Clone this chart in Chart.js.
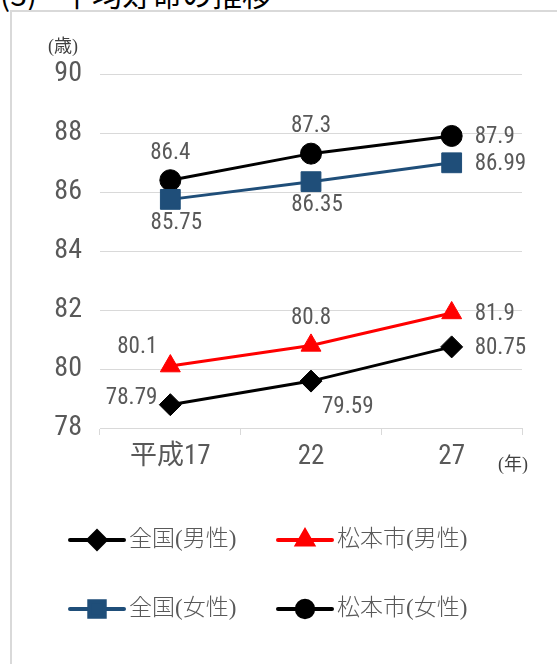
<!DOCTYPE html>
<html lang="ja">
<head>
    <meta charset="UTF-8">
    <title>平均寿命の推移</title>
    <script src="https://cdn.jsdelivr.net/npm/chart.js"></script>
    <style>
        body {
            margin: 0;
            background-color: #fff;
            overflow: hidden;
        }
        .title {
            position: absolute;
            left: 0;
            top: -29px;
            font: 30px 'Noto Sans CJK JP', sans-serif;
            color: #000;
            white-space: pre;
        }
        .title span {
            position: absolute;
            left: 62px;
            top: 0;
        }
        .box {
            position: absolute;
            left: 10px;
            top: 10px;
            width: 600px;
            height: 700px;
            border: 2px solid #d9d9d9;
        }
        #chart {
            position: absolute;
            left: 0;
            top: 0;
        }
    </style>
</head>
<body>
    <div class="title">(3)<span>平均寿命の推移</span></div>
    <div class="box"></div>
    <canvas id="chart" width="557" height="664"></canvas>

    <script>
        // data
        const years = ['平成17', '22', '27'];
        const zenkokuMale = [78.79, 79.59, 80.75];
        const matsumotoMale = [80.1, 80.8, 81.9];
        const zenkokuFemale = [85.75, 86.35, 86.99];
        const matsumotoFemale = [86.4, 87.3, 87.9];
        const yTicks = [78, 80, 82, 84, 86, 88, 90];

        const narrowFont = "'Roboto Condensed', 'Noto Sans CJK JP', sans-serif";
        const legendFont = "'Liberation Serif', 'Noto Sans CJK JP', serif";
        const gray = '#595959';

        // where each value label sits relative to its point
        const labelOffsets = {
            t:  { dx: 0,   dy: -27, align: 'center' },
            b:  { dx: 6,   dy: 24,  align: 'center' },
            r:  { dx: 23,  dy: 1,   align: 'left' },
            l:  { dx: -13, dy: -6,  align: 'right' },
            tl: { dx: -13, dy: -19, align: 'right' },
            br: { dx: 11,  dy: 26,  align: 'left' }
        };

        const valueLabels = {
            id: 'valueLabels',
            afterDatasetsDraw(chart) {
                const ctx = chart.ctx;
                ctx.save();
                ctx.font = '23px ' + narrowFont;
                ctx.fillStyle = gray;
                ctx.textBaseline = 'middle';
                chart.data.datasets.forEach((ds, i) => {
                    chart.getDatasetMeta(i).data.forEach((pt, j) => {
                        const o = labelOffsets[ds.labelPos[j]];
                        ctx.textAlign = o.align;
                        ctx.fillText(String(ds.data[j]), pt.x + o.dx, pt.y + o.dy);
                    });
                });
                ctx.restore();
            }
        };

        // axis units and the two-row legend
        const extras = {
            id: 'extras',
            afterDraw(chart) {
                const ctx = chart.ctx;
                const area = chart.chartArea;
                ctx.save();
                ctx.fillStyle = '#404040';
                ctx.font = '18px ' + legendFont;
                ctx.textAlign = 'center';
                ctx.textBaseline = 'middle';
                ctx.fillText('(歳)', 63, area.top - 27);
                ctx.fillText('(年)', area.right - 9, area.bottom + 37);

                ctx.font = '300 23px ' + legendFont;
                ctx.textAlign = 'left';
                chart.data.datasets.forEach((ds, i) => {
                    const x = 70 + (i % 2) * 208;
                    const y = 540 + Math.floor(i / 2) * 69;
                    ctx.strokeStyle = ds.borderColor;
                    ctx.lineWidth = 4;
                    ctx.lineCap = 'round';
                    ctx.beginPath();
                    ctx.moveTo(x, y);
                    ctx.lineTo(x + 54, y);
                    ctx.stroke();
                    ctx.fillStyle = ds.backgroundColor;
                    Chart.helpers.drawPoint(ctx, {
                        pointStyle: ds.pointStyle,
                        radius: ds.pointRadius * 0.78,
                        borderWidth: 1,
                        rotation: 0
                    }, x + 27, y);
                    ctx.fillStyle = gray;
                    ctx.fillText(ds.label, x + 59, y);
                });
                ctx.restore();
            }
        };

        const ctx = document.getElementById('chart').getContext('2d');
        new Chart(ctx, {
            type: 'line',
            data: {
                labels: years,
                datasets: [{
                    label: '全国(男性)',
                    data: zenkokuMale,
                    borderColor: '#000000',
                    backgroundColor: '#000000',
                    pointStyle: 'rectRot',
                    pointRadius: 11,
                    labelPos: ['l', 'br', 'r']
                }, {
                    label: '松本市(男性)',
                    data: matsumotoMale,
                    borderColor: '#ff0000',
                    backgroundColor: '#ff0000',
                    pointStyle: 'triangle',
                    pointRadius: 11.5,
                    labelPos: ['tl', 't', 'r']
                }, {
                    label: '全国(女性)',
                    data: zenkokuFemale,
                    borderColor: '#1f4e79',
                    backgroundColor: '#1f4e79',
                    pointStyle: 'rect',
                    pointRadius: 14,
                    labelPos: ['b', 'b', 'r']
                }, {
                    label: '松本市(女性)',
                    data: matsumotoFemale,
                    borderColor: '#000000',
                    backgroundColor: '#000000',
                    pointStyle: 'circle',
                    pointRadius: 10.5,
                    labelPos: ['t', 't', 'r']
                }]
            },
            options: {
                responsive: false,
                animation: false,
                layout: {
                    padding: { top: 74, right: 35, bottom: 186, left: 0 }
                },
                elements: {
                    line: { borderWidth: 3, tension: 0 },
                    point: { borderWidth: 1 }
                },
                plugins: {
                    legend: { display: false },
                    tooltip: { enabled: false }
                },
                scales: {
                    x: {
                        offset: true,
                        grid: {
                            offset: true,
                            drawOnChartArea: false,
                            tickLength: 7,
                            color: '#d9d9d9'
                        },
                        border: { color: '#d9d9d9' },
                        ticks: {
                            color: gray,
                            padding: 6,
                            font: { family: narrowFont, size: 27 }
                        },
                        afterFit(scale) { scale.height = 50; }
                    },
                    y: {
                        min: 78,
                        max: 90,
                        grid: { color: '#d9d9d9', drawTicks: false },
                        border: { display: false },
                        ticks: {
                            color: gray,
                            padding: 18,
                            font: { family: narrowFont, size: 28 }
                        },
                        afterBuildTicks(scale) {
                            scale.ticks = yTicks.map(v => ({ value: v }));
                        },
                        afterFit(scale) { scale.width = 100; }
                    }
                }
            },
            plugins: [valueLabels, extras]
        });
    </script>
</body>
</html>
